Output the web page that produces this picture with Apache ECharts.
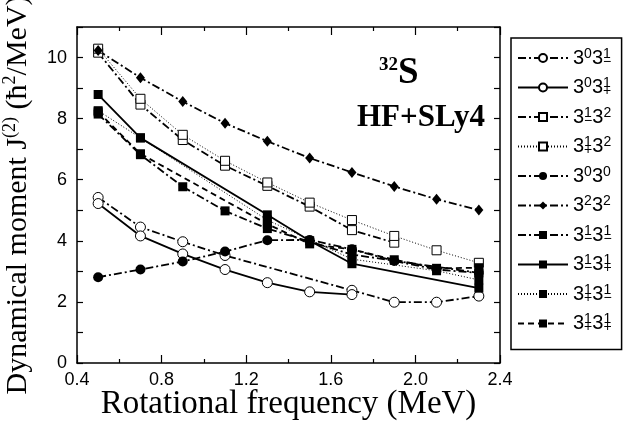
<!DOCTYPE html>
<html>
<head>
<meta charset="utf-8">
<script src="https://cdn.jsdelivr.net/npm/echarts@6/dist/echarts.min.js"></script>
<style>
  html, body { margin: 0; padding: 0; background: #fff; }
  #chart { width: 624px; height: 424px; }
</style>
</head>
<body>
<div id="chart"></div>
<script>
// rotational frequencies (MeV)
const freq = [0.5, 0.7, 0.9, 1.1, 1.3, 1.5, 1.7, 1.9, 2.1, 2.3]

// J(2) values per configuration, null = no point
const s0331m = [5.42, 4.45, 3.97, 3.52, null, null, 2.38, 1.99, 1.99, 2.19]
const s0331p = [5.22, 4.16, 3.57, 3.06, 2.63, 2.33, 2.24, null, null, null]
const s1m32 = [10.16, 8.46, 7.30, 6.46, 5.80, 5.12, 4.35, 3.94, null, null]
const s1p32 = [10.29, 8.65, 7.47, 6.62, 5.91, 5.25, 4.68, 4.16, 3.69, 3.28]
const s0330 = [2.81, 3.06, 3.32, 3.65, 4.02, 4.03, 3.72, 3.34, 3.06, 2.95]
const s2322 = [10.23, 9.34, 8.56, 7.85, 7.26, 6.71, 6.24, 5.78, 5.36, 5.01]
const s1m1m = [8.15, 6.82, 5.77, 4.98, 4.40, null, 3.55, null, null, 2.95]
const s1m1p = [8.79, 7.37, null, null, 4.85, 4.00, 3.25, null, null, 2.45]
const s1p1m = [8.26, 7.37, null, null, 4.68, null, 3.40, null, 3.02, 2.72]
const s1p1p = [8.22, 6.85, null, null, 4.55, 3.90, 3.72, 3.38, 3.10, 3.12]

// legend labels (rich text)
const names = ['a', 'b', 'c', 'd', 'e', 'f', 'g', 'h', 'i', 'j']
const labels = [
  '3{sup|0}3{sz|1}{sub|−}',
  '3{sup|0}3{sz|1}{sub|+}',
  '3{sz|1}{sub|−}3{sup|2}',
  '3{sz|1}{sub|+}3{sup|2}',
  '3{sup|0}3{sup|0}',
  '3{sup|2}3{sup|2}',
  '3{sz|1}{sub|−}3{sz|1}{sub|−}',
  '3{sz|1}{sub|−}3{sz|1}{sub|+}',
  '3{sz|1}{sub|+}3{sz|1}{sub|−}',
  '3{sz|1}{sub|+}3{sz|1}{sub|+}'
]

const DASHDOT = [8, 3, 2, 3]
const DASHED = [6, 4]
const DOTTED = [1, 2]

const pairs = vals => freq.map((x, i) => [x, vals[i]])

const openSym = { color: '#fff', borderColor: '#000', borderWidth: 1 }
const fillSym = { color: '#000', borderColor: '#000', borderWidth: 0 }

const mk = (idx, vals, symbol, size, item, dash, width) => ({
  name: names[idx],
  type: 'line',
  data: pairs(vals),
  connectNulls: true,
  symbol: symbol,
  symbolSize: size,
  showAllSymbol: true,
  itemStyle: item,
  lineStyle: { color: '#000', width: width, type: dash },
  emphasis: { disabled: true },
  animation: false
})

const chart = echarts.init(document.getElementById('chart'))

const axisCommon = {
  axisLine: { show: true, onZero: false, lineStyle: { color: '#000', width: 1.5 } },
  splitLine: { show: false }
}

chart.setOption({
  backgroundColor: '#fff',
  animation: false,
  grid: { left: 77, right: 124, top: 27, bottom: 61, outerBoundsMode: 'none', containLabel: false },
  xAxis: [
    {
      ...axisCommon,
      type: 'value', min: 0.4, max: 2.4, interval: 0.4,
      axisTick: { show: true, inside: true, length: 8, lineStyle: { color: '#000', width: 1.2 } },
      minorTick: { show: true, splitNumber: 2, length: 4, lineStyle: { color: '#000', width: 1.2 } },
      axisLabel: { color: '#000', fontFamily: 'Liberation Sans', fontSize: 18, margin: 8,
        formatter: v => v.toFixed(1) },
      name: 'Rotational frequency (MeV)',
      nameLocation: 'middle', nameGap: 25, nameMoveOverlap: false,
      nameTextStyle: { color: '#000', fontFamily: 'Liberation Serif', fontSize: 33 }
    },
    {
      ...axisCommon,
      type: 'value', position: 'top', min: 0.4, max: 2.4, interval: 0.4,
      axisTick: { show: true, inside: true, length: 8, lineStyle: { color: '#000', width: 1.2 } },
      minorTick: { show: true, splitNumber: 2, length: 4, lineStyle: { color: '#000', width: 1.2 } },
      axisLabel: { show: false }
    }
  ],
  yAxis: [
    {
      ...axisCommon,
      type: 'value', min: 0, max: 11, interval: 1,
      axisTick: { show: true, inside: true, length: 6, lineStyle: { color: '#000', width: 1.2 } },
      axisLabel: { color: '#000', fontFamily: 'Liberation Sans', fontSize: 18, margin: 10,
        formatter: v => (v % 2 === 0 ? String(v) : '') },
      name: 'Dynamical moment J{sup|(2)} (ħ{sup|2}/MeV)',
      nameLocation: 'middle', nameGap: 42, nameRotate: 90, nameMoveOverlap: false,
      nameTextStyle: {
        color: '#000', fontFamily: 'Liberation Serif', fontSize: 30,
        rich: {
          sup: { fontFamily: 'Liberation Serif', fontSize: 18, color: '#000', verticalAlign: 'top', lineHeight: 34 }
        }
      }
    },
    {
      ...axisCommon,
      type: 'value', position: 'right', min: 0, max: 11, interval: 1,
      axisTick: { show: true, inside: true, length: 6, lineStyle: { color: '#000', width: 1.2 } },
      axisLabel: { show: false }
    }
  ],
  legend: {
    orient: 'vertical',
    left: 511, top: 38,
    width: 108,
    padding: [9, 10, 15, 6],
    borderColor: '#000', borderWidth: 1.5,
    itemWidth: 50, itemHeight: 10, itemGap: 7.5,
    selectedMode: false,
    data: names,
    formatter: n => labels[names.indexOf(n)],
    textStyle: {
      color: '#000', fontFamily: 'Liberation Sans', fontSize: 20, lineHeight: 22,
      rich: {
        sup: { fontFamily: 'Liberation Sans', fontSize: 14, color: '#000', verticalAlign: 'top', lineHeight: 22 },
        sz: { fontFamily: 'Liberation Sans', fontSize: 14, color: '#000', verticalAlign: 'top', lineHeight: 22, width: 0 },
        sub: { fontFamily: 'Liberation Sans', fontSize: 14, color: '#000', verticalAlign: 'bottom', lineHeight: 22 }
      }
    }
  },
  graphic: [
    {
      type: 'text', left: 379, top: 55,
      style: {
        text: '{s|32}{b|S}',
        rich: {
          s: { fontFamily: 'Liberation Serif', fontWeight: 'bold', fontSize: 19, verticalAlign: 'top', lineHeight: 36, fill: '#000' },
          b: { fontFamily: 'Liberation Serif', fontWeight: 'bold', fontSize: 37, lineHeight: 36, fill: '#000' }
        }
      }
    },
    {
      type: 'text', left: 357, top: 102,
      style: { text: 'HF+SLy4', fontFamily: 'Liberation Serif', fontWeight: 'bold', fontSize: 31, fill: '#000' }
    }
  ],
  series: [
    mk(0, s0331m, 'circle', 10, openSym, DASHDOT, 1.8),
    mk(1, s0331p, 'circle', 10, openSym, 'solid', 1.8),
    mk(2, s1m32, 'rect', 9, openSym, DASHDOT, 1.8),
    mk(3, s1p32, 'rect', 9, openSym, DOTTED, 1),
    mk(4, s0330, 'circle', 10, fillSym, DASHDOT, 1.8),
    mk(5, s2322, 'diamond', [9, 11], fillSym, DASHDOT, 1.8),
    mk(6, s1m1m, 'rect', 9, fillSym, DASHDOT, 1.8),
    mk(7, s1m1p, 'rect', 9, fillSym, 'solid', 1.8),
    mk(8, s1p1m, 'rect', 9, fillSym, DOTTED, 1),
    mk(9, s1p1p, 'rect', 9, fillSym, DASHED, 1.8)
  ]
})
</script>
</body>
</html>
